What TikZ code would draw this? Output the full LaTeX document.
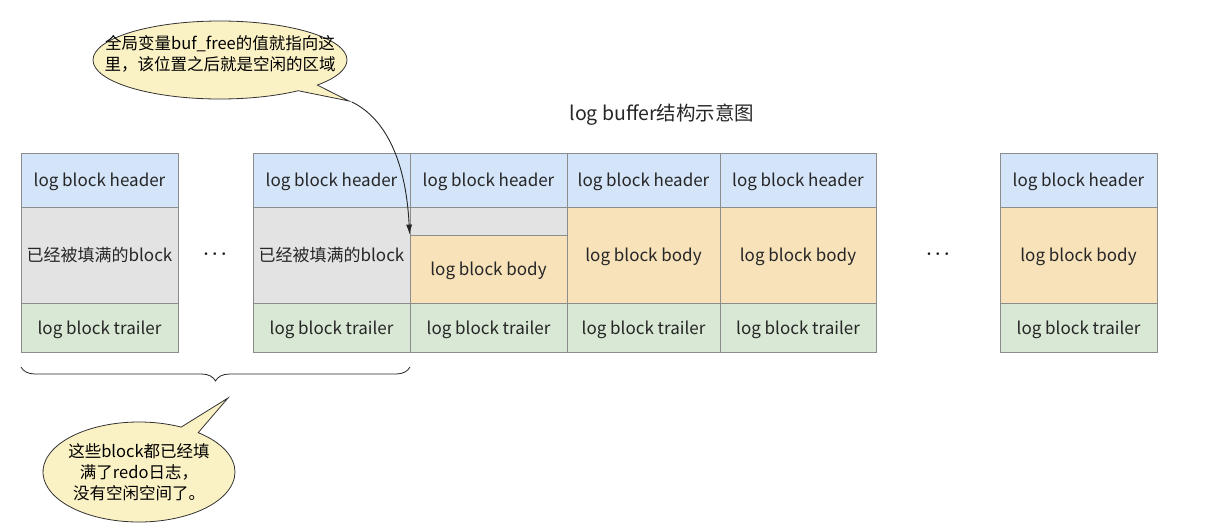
\documentclass[tikz,border=0pt]{standalone}
\usepackage{fontspec}
\setmainfont{Noto Sans CJK SC}
\usetikzlibrary{shapes.callouts,shapes.geometric,decorations.pathreplacing,arrows.meta}
\definecolor{hdrc}{HTML}{D4E4F9}
\definecolor{grayc}{HTML}{E3E3E3}
\definecolor{bodyc}{HTML}{F7E2BA}
\definecolor{trlc}{HTML}{D8E8D4}
\definecolor{callc}{HTML}{FAF1C4}
\definecolor{linec}{HTML}{8C8C8C}
\definecolor{txtc}{HTML}{262626}
\newcommand\fsz{\fontsize{17}{20}\selectfont}
\newcommand\csz{\fontsize{16.5}{21}\selectfont}
\newcommand\tsz{\fontsize{19.5}{22}\selectfont}
\tikzset{
  cell/.style={draw=linec, line width=0.8pt, inner sep=0pt, font=\fsz, text=txtc, text height=14pt, text depth=1pt},
  hdr/.style={cell, fill=hdrc, minimum height=54pt},
  full/.style={cell, fill=grayc, minimum height=96pt},
  bodyfull/.style={cell, fill=bodyc, minimum height=96pt},
  trl/.style={cell, fill=trlc, minimum height=49pt},
  callout/.style={ellipse callout, draw=black!80, line width=0.8pt, fill=callc, inner sep=0pt, callout pointer arc=12},
  callouttext/.style={font=\csz, text=black, align=center, inner sep=0pt},
  pointarrow/.style={draw=black!85, line width=0.9pt, -{Latex[length=10pt,width=6pt]}},
  dotsnode/.style={font=\fontsize{18}{18}\selectfont\boldmath, text=black!90},
}
\begin{document}
\begin{tikzpicture}[x=1pt,y=-1pt]
\useasboundingbox (0,0) rectangle (1232,528);
% block 1
\node[hdr, minimum width=157pt] (h1) at (99.5,180) {log block header};
\node[full, minimum width=157pt] (m1) at (99.5,255) {已经被填满的block};
\node[trl, minimum width=157pt] (t1) at (99.5,327.5) {log block trailer};
% block 2
\node[hdr, minimum width=157pt] (h2) at (331.5,180) {log block header};
\node[full, minimum width=157pt] (m2) at (331.5,255) {已经被填满的block};
\node[trl, minimum width=157pt] (t2) at (331.5,327.5) {log block trailer};
% block 3
\node[hdr, minimum width=157pt] (h3) at (488.5,180) {log block header};
\node[cell, fill=grayc, minimum width=157pt, minimum height=28pt] (g3) at (488.5,221) {};
\node[cell, fill=bodyc, minimum width=157pt, minimum height=68pt] (b3) at (488.5,269) {log block body};
\node[trl, minimum width=157pt] (t3) at (488.5,327.5) {log block trailer};
% block 4
\node[hdr, minimum width=153pt] (h4) at (643.5,180) {log block header};
\node[bodyfull, minimum width=153pt] (b4) at (643.5,255) {log block body};
\node[trl, minimum width=153pt] (t4) at (643.5,327.5) {log block trailer};
% block 5
\node[hdr, minimum width=156pt] (h5) at (798,180) {log block header};
\node[bodyfull, minimum width=156pt] (b5) at (798,255) {log block body};
\node[trl, minimum width=156pt] (t5) at (798,327.5) {log block trailer};
% block 6
\node[hdr, minimum width=157pt] (h6) at (1078.5,180) {log block header};
\node[bodyfull, minimum width=157pt] (b6) at (1078.5,255) {log block body};
\node[trl, minimum width=157pt] (t6) at (1078.5,327.5) {log block trailer};
% dots
\node[dotsnode] (d1) at (215,254) {$\cdots$};
\node[dotsnode] (d2) at (938,254) {$\cdots$};
% title
\node[font=\tsz, text=txtc] (title) at (662,115) {log buffer结构示意图};
% callout 1
\node[callout, minimum width=254pt, minimum height=78pt, callout absolute pointer={(349,101)}] (c1) at (220,60) {};
\node[callouttext] (c1t) at (c1.center) [yshift=6pt]
  {全局变量buf\_free的值就指向这\\里，该位置之后就是空闲的区域};
\draw[pointarrow] (c1.pointer) .. controls (385,118) and (406,160) .. (b3.north west);
% brace
\coordinate (brR) at (410,367);
\coordinate (brL) at (21,367);
\draw[line width=0.8pt, black!85, decorate, decoration={brace, amplitude=14pt}] (brR) -- (brL);
% callout 2
\node[callout, minimum width=192pt, minimum height=100pt, callout absolute pointer={(228,398)}] (c2) at (139,472) {};
\node[callouttext] (c2t) at (c2.center) [yshift=0pt]
  {这些block都已经填\\满了redo日志，\\没有空闲空间了。};
\end{tikzpicture}
\end{document}
